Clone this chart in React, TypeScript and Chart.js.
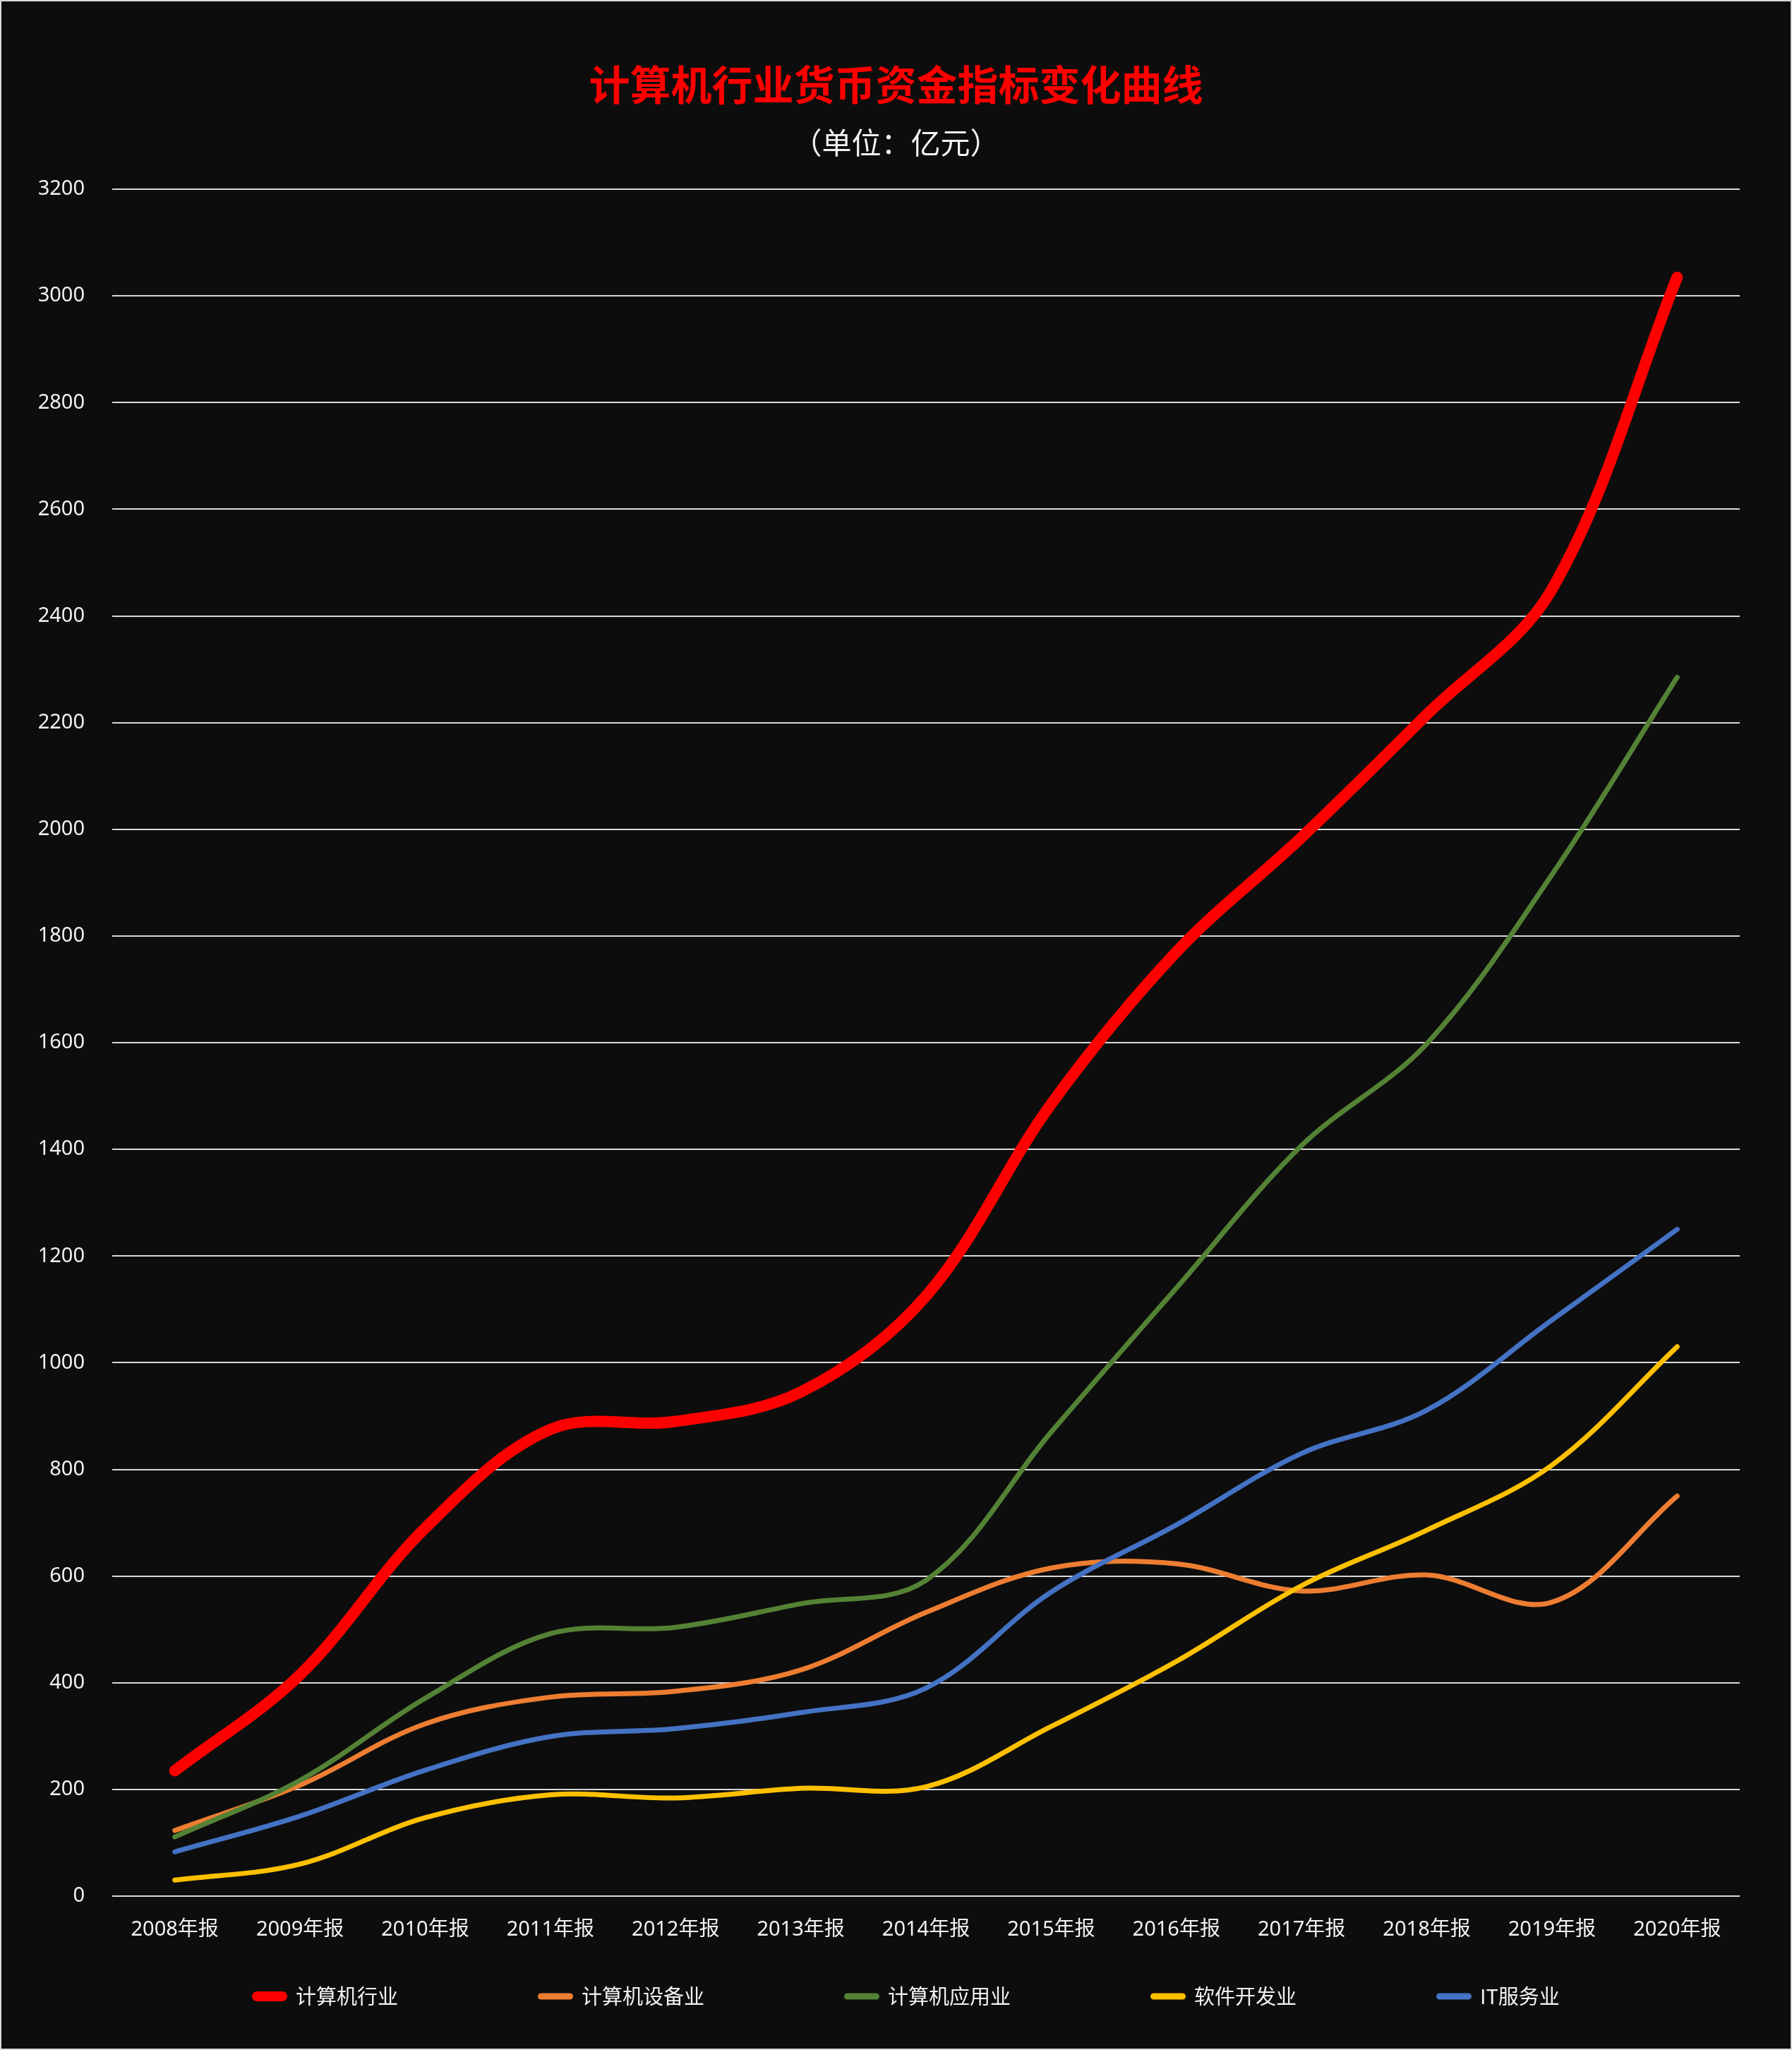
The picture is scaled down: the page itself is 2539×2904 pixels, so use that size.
import React, { useEffect, useRef } from 'react';
import { Chart, registerables } from 'chart.js';

Chart.register(...registerables);

// ---- data ----
const categories = [
  '2008年报', '2009年报', '2010年报', '2011年报', '2012年报', '2013年报', '2014年报',
  '2015年报', '2016年报', '2017年报', '2018年报', '2019年报', '2020年报',
];
const seriesNames = ['计算机行业', '计算机设备业', '计算机应用业', '软件开发业', 'IT服务业'];
const computerIndustry = [235, 415, 690, 875, 890, 945, 1125, 1485, 1770, 1985, 2215, 2450, 3035];
const equipmentIndustry = [123, 208, 323, 373, 384, 424, 532, 615, 623, 572, 602, 551, 750];
const applicationIndustry = [111, 217, 371, 492, 504, 548, 592, 870, 1140, 1407, 1598, 1915, 2285];
const softwareIndustry = [30, 60, 147, 190, 184, 202, 205, 318, 440, 582, 686, 808, 1030];
const itServiceIndustry = [83, 150, 236, 299, 314, 344, 390, 570, 696, 830, 911, 1080, 1250];
const yMin = 0;
const yMax = 3200;
const yStep = 200;
const titleText = '计算机行业货币资金指标变化曲线';
const subtitleText = '（单位：亿元）';

// ---- styles ----
const seriesColors = ['#FF0000', '#ED7D31', '#548235', '#FFC000', '#4472C4'];
const seriesWidths = [16, 7, 7, 7, 7];
const swatchThickness = [14, 9, 9, 9, 9];
const FONT = "'Noto Sans', 'Noto Sans CJK SC', sans-serif";
const CJK_FONT = "'Noto Sans CJK SC', 'Noto Sans', sans-serif";
const BG = '#0d0d0d';
const TEXT = '#f2f2f2';
const GRID = '#d9d9d9';

const CANVAS_W = 2535;
const CANVAS_H = 2900;
const LEGEND_BOX_W = 188;
const LEGEND_FONT = 29;
const LEGEND_PAD = 57.5;
const X_AXIS_H = 70;

function makeSwatch(color: string, thickness: number): HTMLCanvasElement {
  const c = document.createElement('canvas');
  const w = LEGEND_BOX_W + LEGEND_FONT; // centered over box, extends half-font on each side
  const h = 22;
  c.width = w;
  c.height = h;
  const ctx = c.getContext('2d');
  if (ctx) {
    const right = w - 12;
    const left = right - 50;
    ctx.strokeStyle = color;
    ctx.lineWidth = thickness;
    ctx.lineCap = 'round';
    ctx.beginPath();
    ctx.moveTo(left + thickness / 2, h / 2);
    ctx.lineTo(right - thickness / 2, h / 2);
    ctx.stroke();
  }
  return c;
}

export default function App() {
  const canvasRef = useRef<HTMLCanvasElement | null>(null);

  useEffect(() => {
    const canvas = canvasRef.current;
    if (!canvas) return;
    const seriesData = [
      computerIndustry,
      equipmentIndustry,
      applicationIndustry,
      softwareIndustry,
      itServiceIndustry,
    ];
    const swatches = seriesColors.map((c, i) => makeSwatch(c, swatchThickness[i]));

    const chart = new Chart(canvas, {
      type: 'line',
      data: {
        labels: categories,
        datasets: seriesData.map((d, i) => ({
          label: seriesNames[i],
          data: d,
          borderColor: seriesColors[i],
          backgroundColor: seriesColors[i],
          borderWidth: seriesWidths[i],
          borderCapStyle: 'round',
          borderJoinStyle: 'round',
          pointRadius: 0,
          pointHoverRadius: 0,
          tension: 0.35,
          fill: false,
          order: seriesData.length - i,
        })),
      },
      options: {
        responsive: false,
        animation: false,
        devicePixelRatio: 1,
        layout: { padding: { top: 0, left: 0, right: 0, bottom: 49.5 } },
        plugins: {
          title: {
            display: true,
            text: titleText,
            color: '#FF0000',
            font: { family: CJK_FONT, size: 58, weight: 'bold', lineHeight: 1.2 },
            padding: { top: 83.2, bottom: 0 },
          },
          subtitle: {
            display: true,
            text: subtitleText,
            color: TEXT,
            font: { family: CJK_FONT, size: 42, weight: 'normal', lineHeight: 1.2 },
            padding: { top: 22, bottom: 40.8 },
          },
          legend: {
            display: true,
            position: 'bottom',
            fullSize: false,
            align: 'start',
            labels: {
              usePointStyle: true,
              pointStyleWidth: LEGEND_BOX_W,
              padding: LEGEND_PAD,
              color: TEXT,
              font: { family: CJK_FONT, size: LEGEND_FONT },
              sort: (a: any, b: any) => a.datasetIndex - b.datasetIndex,
              generateLabels: (ch: any) => {
                const items = Chart.defaults.plugins.legend.labels.generateLabels(ch);
                return items.map((it: any) => ({
                  ...it,
                  pointStyle: swatches[it.datasetIndex],
                  lineWidth: 0,
                }));
              },
            },
          },
          tooltip: { enabled: false },
        },
        scales: {
          x: {
            type: 'category',
            offset: true,
            grid: { display: false, drawTicks: false },
            border: { display: false },
            ticks: {
              color: TEXT,
              font: { family: FONT, size: 29 },
              padding: 30,
              maxRotation: 0,
              autoSkip: false,
            },
            afterFit: (s: any) => {
              s.height = X_AXIS_H;
            },
          },
          y: {
            type: 'linear',
            position: 'left',
            min: yMin,
            max: yMax,
            ticks: {
              stepSize: yStep,
              color: TEXT,
              font: { family: FONT, size: 29 },
              padding: 39,
              callback: (v: any) => String(v),
            },
            grid: { color: GRID, lineWidth: 2, drawTicks: false },
            border: { display: false },
            afterFit: (s: any) => {
              s.width = 157;
            },
          },
          yRight: {
            type: 'linear',
            position: 'right',
            display: true,
            grid: { display: false, drawTicks: false },
            ticks: { display: false },
            border: { display: false },
            afterFit: (s: any) => {
              s.width = 72;
            },
          },
        },
      } as any,
    });

    return () => {
      chart.destroy();
    };
  }, []);

  return (
    <div
      style={{
        position: 'absolute',
        left: 0,
        top: 0,
        width: 2539,
        height: 2904,
        boxSizing: 'border-box',
        border: '2px solid #d9d9d9',
        background: BG,
        overflow: 'hidden',
      }}
    >
      <canvas
        ref={canvasRef}
        width={CANVAS_W}
        height={CANVAS_H}
        style={{ display: 'block', width: CANVAS_W, height: CANVAS_H }}
      />
    </div>
  );
}
